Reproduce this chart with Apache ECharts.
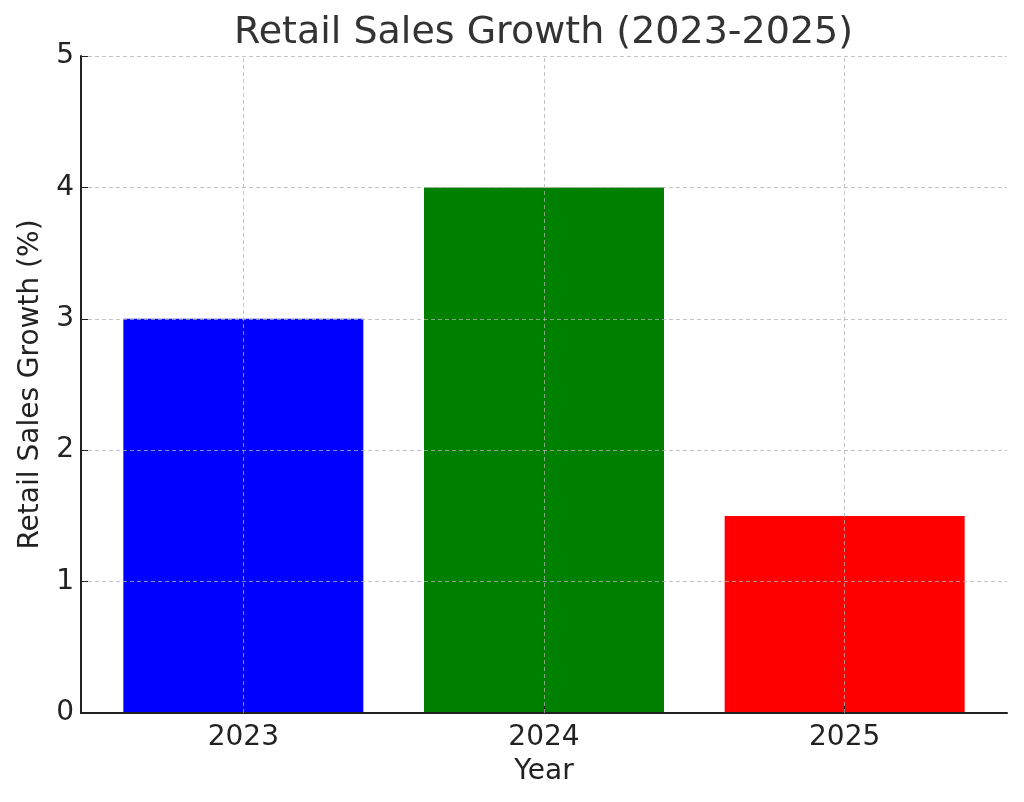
<!DOCTYPE html>
<html>
<head>
<meta charset="utf-8">
<script src="https://cdn.jsdelivr.net/npm/echarts@6/dist/echarts.min.js"></script>
<style>
  html, body { margin: 0; padding: 0; background: #fff; }
  #chart { width: 1024px; height: 802px; }
</style>
</head>
<body>
<div id="chart"></div>
<script>
// data
var years = ['2023', '2024', '2025'];
var growth = [3, 4, 1.5];
var barColors = ['#0000ff', '#008000', '#ff0000'];
var yTicks = [0, 1, 2, 3, 4, 5];

var font = 'DejaVu Sans';
var gridStyle = { color: 'rgba(176,176,176,0.75)', type: [4, 3], width: 1 };

var chart = echarts.init(document.getElementById('chart'));

chart.setOption({
  animation: false,
  backgroundColor: '#fff',
  title: {
    text: 'Retail Sales Growth (2023-2025)',
    left: 229,
    top: 9,
    textStyle: { fontFamily: font, fontSize: 38, fontWeight: 'normal', color: '#333' }
  },
  // grid 0 = full frame (spines, y axis), grid 1 = inner bands for the bars
  grid: [
    { left: 81, right: 17, top: 56, bottom: 89 },
    { left: 93, right: 29, top: 56, bottom: 89 }
  ],
  xAxis: [
    {
      gridIndex: 0, type: 'value', min: 0, max: 1, z: 3,
      axisLine: { show: true, lineStyle: { color: '#222', width: 2 } },
      axisTick: { show: false }, axisLabel: { show: false }, splitLine: { show: false }
    },
    {
      gridIndex: 1, type: 'category', data: years, z: 3,
      name: 'Year', nameLocation: 'middle', nameGap: 45,
      nameTextStyle: { fontFamily: font, fontSize: 28, color: '#222' },
      axisLine: { show: false },
      axisTick: { show: true, inside: true, length: 7, alignWithLabel: true, lineStyle: { color: '#222' } },
      axisLabel: { fontFamily: font, fontSize: 28, color: '#222', margin: 11 },
      splitLine: { show: false }
    }
  ],
  yAxis: [
    {
      gridIndex: 0, type: 'value', min: yTicks[0], max: yTicks[yTicks.length - 1], interval: 1, z: 3,
      name: 'Retail Sales Growth (%)', nameLocation: 'middle', nameGap: 36,
      nameTextStyle: { fontFamily: font, fontSize: 28, color: '#222' },
      axisLine: { show: true, lineStyle: { color: '#222', width: 2 } },
      axisTick: { show: true, inside: true, length: 7, lineStyle: { color: '#222' } },
      axisLabel: { fontFamily: font, fontSize: 28, color: '#222', margin: 7 },
      splitLine: { show: true, lineStyle: gridStyle }
    },
    {
      gridIndex: 1, type: 'value', min: yTicks[0], max: yTicks[yTicks.length - 1], interval: 1,
      show: false, splitLine: { show: false }
    }
  ],
  series: [{
    type: 'bar',
    xAxisIndex: 1,
    yAxisIndex: 1,
    barWidth: 240,
    z: 2,
    data: growth.map(function (v, i) {
      return { value: v, itemStyle: { color: barColors[i] } };
    }),
    // vertical grid lines sit at the category centres, over the bars
    markLine: {
      silent: true,
      symbol: 'none',
      z: 4,
      label: { show: false },
      lineStyle: gridStyle,
      data: years.map(function (y) { return { xAxis: y }; })
    }
  }]
});
</script>
</body>
</html>
